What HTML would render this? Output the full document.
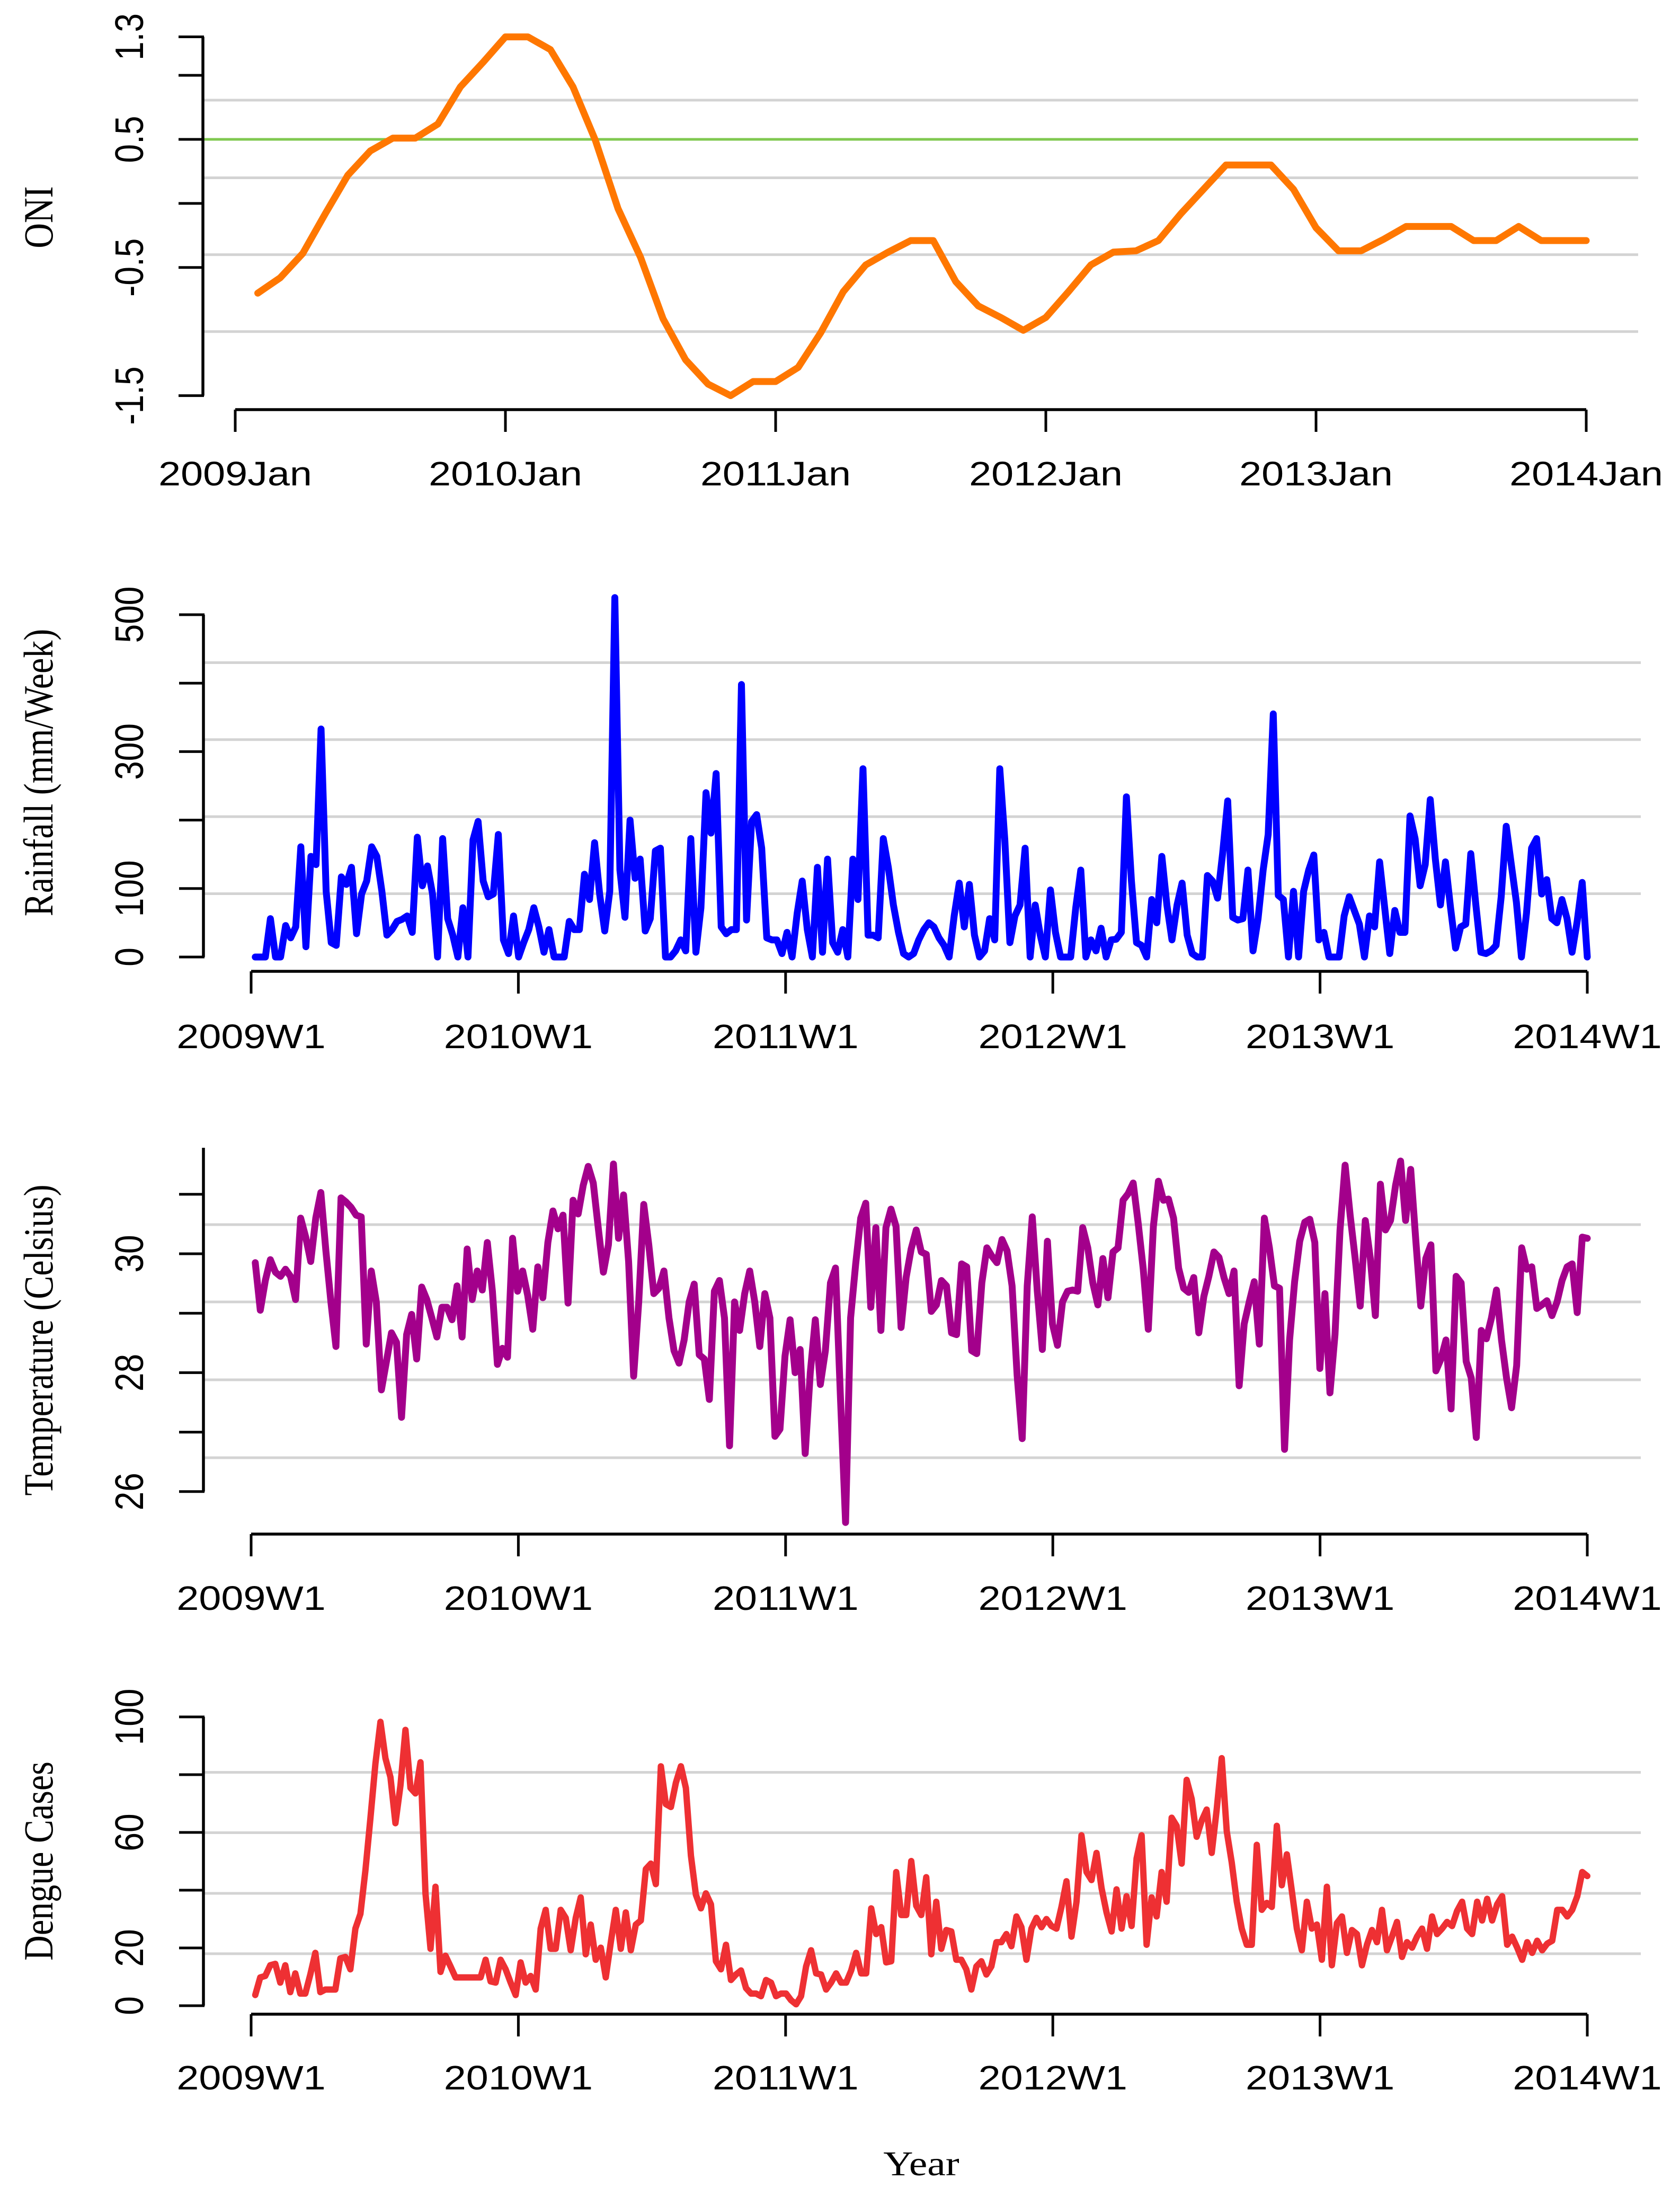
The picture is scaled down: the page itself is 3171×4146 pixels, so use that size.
<!DOCTYPE html>
<html><head><meta charset="utf-8"><title>ONI, Rainfall, Temperature and Dengue cases</title>
<style>
html,body{margin:0;padding:0;background:#fff;}
svg{display:block;}
</style></head>
<body>
<svg id="chart" xmlns="http://www.w3.org/2000/svg" width="3171" height="4146" viewBox="0 0 3171 4146"></svg>
<script>
// ---------- DATA ----------
const oniValues = [-0.70,-0.58,-0.39,-0.08,0.22,0.41,0.51,0.51,0.62,0.91,
1.10,1.30,1.30,1.20,0.91,0.49,-0.04,-0.42,-0.90,-1.22,
-1.41,-1.50,-1.39,-1.39,-1.28,-1.01,-0.69,-0.48,-0.38,-0.29,
-0.29,-0.61,-0.80,-0.89,-0.99,-0.89,-0.69,-0.48,-0.38,-0.37,
-0.29,-0.08,0.11,0.30,0.30,0.30,0.11,-0.19,-0.37,-0.37,
-0.28,-0.18,-0.18,-0.18,-0.29,-0.29,-0.18,-0.29,-0.29,-0.29];
const oniTickValues = [1.3,1.0,0.5,0,-0.5,-1.5];
const oniTickLabels = ['1.3','','0.5','','-0.5','-1.5'];
const oniGridValues = [0.806,0.2,-0.4,-1.0];
const oniReference = [0.5];
const oniXLabels = ['2009Jan','2010Jan','2011Jan','2012Jan','2013Jan','2014Jan'];

const rainValues = [0,0,0,56,0,0,46,28,44,161,
15,147,135,333,96,21,17,117,106,131,
34,92,111,161,147,96,32,40,52,55,60,36,
175,104,133,92,0,173,56,32,0,72,
0,171,198,111,88,92,179,25,5,60,
0,21,40,72,44,7,40,0,0,0,
52,40,40,121,84,167,92,38,96,525,
127,58,200,115,143,38,56,155,159,0,
0,9,25,9,173,7,72,240,181,268,
44,34,40,40,398,54,198,208,159,28,
25,25,5,36,0,64,111,40,0,131,
7,143,21,7,40,0,143,84,275,32,
32,28,173,131,76,36,5,0,5,25,
40,50,44,28,
17,0,60,108,44,106,32,0,9,56,
25,275,171,21,60,76,159,0,76,32,
0,98,36,0,0,0,72,127,0,25,
9,42,0,25,26,36,234,111,21,17,
0,84,50,147,76,25,76,108,32,5,
0,0,119,111,86,151,228,58,54,56,
127,9,56,127,179,355,90,84,0,96,
0,96,127,149,25,36,0,0,0,60,
88,68,48,0,60,44,139,72,5,68,
36,36,206,173,104,135,230,143,76,139,
72,13,44,48,151,76,7,5,9,17,
88,191,135,80,0,64,159,173,92,113,
56,50,84,56,7,52,109,0];
const rainTickValues = [0,100,200,300,400,500];
const rainTickLabels = ['0','100','','300','','500'];
const rainGridValues = [92.5,205,317.5,430];

const tempValues = [29.85,29.05,29.55,29.9,29.69,29.62,29.74,29.62,29.23,
30.6,30.28,29.87,30.6,31.03,30.05,29.19,28.44,30.94,
30.87,30.78,30.65,30.62,28.48,29.71,29.19,27.71,28.19,28.67,
28.51,27.25,28.64,28.98,28.23,29.44,29.23,28.92,28.6,
29.1,29.1,28.89,29.46,28.6,30.08,29.23,29.71,29.39,30.19,
29.37,28.14,28.41,28.26,30.26,29.37,29.71,29.3,28.73,
29.78,29.26,30.19,30.72,30.42,30.65,29.17,30.9,30.67,31.15,
31.47,31.19,30.42,29.69,30.15,31.51,30.26,30.99,29.87,27.94,
29.19,30.83,30.15,29.33,29.42,29.71,28.92,28.37,28.16,28.55,
29.19,29.49,28.3,28.23,27.55,29.37,29.55,28.92,26.77,29.19,
28.71,29.33,29.71,29.19,28.44,29.33,28.92,26.93,27.05,28.28,
28.89,28.0,28.39,26.64,28.0,28.89,27.8,28.37,29.51,29.76,
27.55,25.48,28.92,29.83,30.6,30.85,29.1,30.44,28.71,30.44,
30.75,30.46,28.76,29.6,30.08,30.4,30.03,29.99,29.03,29.14,
29.55,29.46,28.67,
28.64,29.83,29.78,28.37,28.32,29.51,30.1,29.96,29.85,30.24,
30.05,29.46,27.96,26.89,29.46,30.62,29.37,28.39,30.21,28.82,
28.46,29.19,29.37,29.39,29.37,30.44,30.1,29.51,29.14,29.92,
29.26,30.03,30.1,30.9,31.01,31.19,30.51,29.74,28.73,30.46,
31.22,30.9,30.92,30.6,29.76,29.42,29.35,29.6,28.67,29.28,
29.62,30.03,29.94,29.6,29.33,29.71,27.78,28.82,29.19,29.53,
28.48,30.6,30.1,29.46,29.42,26.71,28.55,29.53,30.21,30.53,
30.58,30.19,28.07,29.33,27.66,28.64,30.4,31.49,30.65,29.92,
29.12,30.56,29.92,28.96,31.17,30.4,30.56,31.15,31.56,30.56,
31.42,30.24,29.12,29.92,30.15,28.03,28.23,28.55,27.39,29.62,
29.51,28.19,27.91,26.91,28.71,28.57,28.92,29.39,28.55,27.91,
27.41,28.12,30.1,29.74,29.78,29.08,29.14,29.21,28.96,29.19,
29.55,29.78,29.83,29.01,30.28,30.26];
const tempTickValues = [26,27,28,29,30,31];
const tempTickLabels = ['26','','28','','30',''];
const tempGridValues = [30.49,29.19,27.88,26.57];

const dengueValues = [3.7,9.8,10.3,14,14.5,8,14,4.7,11.2,4.2,
4.2,10.8,18.3,4.7,5.6,5.6,5.6,16.4,16.9,12.6,26.7,
31.8,46.8,65,83.8,98.3,85.7,79.1,63.2,76.3,95.5,
75.4,73.5,84.3,38.9,19.7,41.2,11.7,17.3,13.6,9.8,
9.8,9.8,9.8,9.8,9.8,15.9,8.4,8,15.9,12.6,8,3.7,
15,8,10.3,5.6,26.7,33.2,19.7,19.7,33.2,30.4,
19.2,30.4,37.5,17.8,28.1,15.9,20.1,9.8,22,33.2,
19.7,32.3,19.2,28.1,29.5,47.3,49.2,42.1,82.9,69.8,
68.8,77.2,82.9,75.4,52,38.4,33.7,38.9,35.1,15.4,
12.6,21.1,8.9,10.8,12.2,6.1,4.2,4.2,3.3,8.9,
8,3.3,4.2,4.2,1.9,0.5,3.3,13.6,19.2,11.2,
10.8,5.6,8,11.2,8,8,12.2,18.3,11.2,11.2,
33.7,24.8,27.2,15,15.4,46.3,31.4,31.4,50.1,34.6,
31.4,44.5,17.8,36,19.7,26.2,25.7,15.9,
15.9,12.6,5.6,13.6,15.4,10.8,13.6,22,22,24.8,
20.6,30.9,27.2,15.9,26.7,30.4,27.2,30,27.6,26.7,
34.2,43.1,23.9,36,59,46.3,43.5,52.9,40.7,32.3,
25.7,40.3,26.7,37.9,27.6,51,59,21.1,37.5,30.9,
46.3,36,65.1,62.3,49.2,78.2,71.6,58.5,64.1,67.9,
52.9,67.9,85.7,60.4,49.6,36,26.7,21.1,21.1,55.7,
33.2,35.6,34.2,62.3,41.7,52.4,39.8,26.7,19.2,36,
26.7,28.1,15.9,41.2,14,28.6,30.9,18.3,26.2,24.8,
14,21.1,26.2,22,33.2,19.2,23.9,29,16.9,22,
20.1,23.9,26.7,19.7,30.9,24.8,26.7,29,27.6,32.8,
36,26.7,24.8,36,29.5,37,29.5,35.1,37.9,21.1,
23.9,20.1,15.9,22,18.3,22.5,19.2,21.5,22.5,33.2,
33.2,30.9,33.2,37.9,46.3,44.9];
const dengueTickValues = [0,20,40,60,80,100];
const dengueTickLabels = ['0','20','','60','','100'];
const dengueGridValues = [80.8,59.9,38.9,18];
const weekXLabels = ['2009W1','2010W1','2011W1','2012W1','2013W1','2014W1'];

// ---------- DRAWING ----------
const NS = 'http://www.w3.org/2000/svg';
const svg = document.getElementById('chart');
const STRETCH = 1.18;

function mk(tag, attrs, name, parent) {
  const el = document.createElementNS(NS, tag);
  for (const k in attrs) el.setAttribute(k, attrs[k]);
  
  
  (parent || svg).appendChild(el);
  return el;
}
function seg(x1, y1, x2, y2, stroke, w, name, g) {
  return mk('line', {x1: x1, y1: y1, x2: x2, y2: y2, stroke: stroke, 'stroke-width': w}, name, g);
}
function label(txt, x, y, opts, name, g) {
  const el = mk('text', {
    transform: 'translate(' + x + ',' + y + ') scale(' + STRETCH + ',1)' + (opts.rotate ? ' rotate(-90)' : ''),
    x: 0, y: opts.dy, 'text-anchor': 'middle',
    'font-family': opts.serif ? '"Liberation Serif", serif' : '"Liberation Sans", sans-serif',
    'font-size': opts.size, fill: '#000'
  }, name, g);
  el.textContent = txt;
  return el;
}

function panel(cfg) {
  const g = mk('g', {}, cfg.name);
  const yS = cfg.yScale, xS = cfg.xScale;
  cfg.grid.forEach(function (v) {
    seg(cfg.gridX0, yS(v), cfg.gridX1, yS(v), '#d3d3d3', 5, 'gridline', g);
  });
  (cfg.refs || []).forEach(function (v) {
    seg(cfg.gridX0, yS(v), cfg.gridX1, yS(v), '#80c850', 5, 'reference-line', g);
  });
  const n = cfg.values.length;
  const pts = cfg.values.map(function (v, i) { return xS(cfg.xIndex(i, n)).toFixed(1) + ',' + yS(v).toFixed(1); }).join(' ');
  mk('polyline', {points: pts, fill: 'none', stroke: cfg.color, 'stroke-width': cfg.lw, 'stroke-linejoin': 'round', 'stroke-linecap': 'round'}, cfg.seriesName, g);
  const yg = mk('g', {}, 'y-axis', g);
  seg(cfg.axisX, cfg.yAxisTop !== undefined ? cfg.yAxisTop : yS(cfg.yTicks[cfg.yTicks.length - 1]), cfg.axisX, yS(cfg.yTicks[0]), '#000', 5.5, 'y-axis-line', yg);
  cfg.yTicks.forEach(function (v, i) {
    seg(cfg.axisX - 46, yS(v), cfg.axisX + 2, yS(v), '#000', 5, 'y-tick', yg);
    if (cfg.yLabels[i]) label(cfg.yLabels[i], 243, yS(v), {rotate: true, dy: 23, size: 64}, 'y-tick-label', yg);
  });
  label(cfg.title, 73, cfg.titleY, {rotate: true, serif: true, dy: 22, size: 66}, 'y-axis-title', yg);
  const xg = mk('g', {}, 'x-axis', g);
  const t0 = xS(0), t1 = xS(cfg.xTickStep * (cfg.xLabels.length - 1));
  seg(t0, cfg.xAxisY, t1, cfg.xAxisY, '#000', 5.5, 'x-axis-line', xg);
  cfg.xLabels.forEach(function (lab, i) {
    const x = xS(i * cfg.xTickStep);
    seg(x, cfg.xAxisY, x, cfg.xAxisY + 42, '#000', 5, 'x-tick', xg);
    label(lab, x, cfg.xLabelY, {dy: 23, size: 64}, 'x-tick-label', xg);
  });
}

panel({
  name: 'oni-panel', seriesName: 'oni-line', values: oniValues, color: '#ff7700', lw: 13,
  xScale: function (m) { return 444 + m * 42.5; },
  xIndex: function (i) { return i + 1; },
  yScale: function (v) { return 263 - (v - 0.5) * 241.8; },
  grid: oniGridValues, refs: oniReference, gridX0: 383, gridX1: 3092,
  axisX: 383, yTicks: oniTickValues.slice().sort(function (a, b) { return a - b; }),
  yLabels: oniTickLabels.slice().reverse(), title: 'ONI', titleY: 410,
  xAxisY: 773, xTickStep: 12, xLabels: oniXLabels, xLabelY: 893
});

function weekX(w) { return 474 + w * (2996 - 474) / 260; }
function weekIdx(i, n) { return 0.8 + i * (259.2 / (n - 1)); }

panel({
  name: 'rainfall-panel', seriesName: 'rainfall-line', values: rainValues, color: '#0000ff', lw: 13,
  xScale: weekX, xIndex: weekIdx,
  yScale: function (v) { return 1806 - v * 1.292; },
  grid: rainGridValues, gridX0: 384, gridX1: 3097,
  axisX: 384, yTicks: rainTickValues, yLabels: rainTickLabels,
  title: 'Rainfall (mm/Week)', titleY: 1458,
  xAxisY: 1833, xTickStep: 52, xLabels: weekXLabels, xLabelY: 1955
});

panel({
  name: 'temperature-panel', seriesName: 'temperature-line', values: tempValues, color: '#a3008b', lw: 13,
  xScale: weekX, xIndex: weekIdx,
  yScale: function (v) { return 2366 - (v - 30) * 112.2; },
  grid: tempGridValues, gridX0: 384, gridX1: 3097,
  axisX: 384, yTicks: tempTickValues, yLabels: tempTickLabels, yAxisTop: 2166,
  title: 'Temperature (Celsius)', titleY: 2529,
  xAxisY: 2895, xTickStep: 52, xLabels: weekXLabels, xLabelY: 3015
});

panel({
  name: 'dengue-panel', seriesName: 'dengue-line', values: dengueValues, color: '#ee3033', lw: 12,
  xScale: weekX, xIndex: weekIdx,
  yScale: function (v) { return 3785 - v * 5.45; },
  grid: dengueGridValues, gridX0: 384, gridX1: 3097,
  axisX: 384, yTicks: dengueTickValues, yLabels: dengueTickLabels,
  title: 'Dengue Cases', titleY: 3512,
  xAxisY: 3801, xTickStep: 52, xLabels: weekXLabels, xLabelY: 3920
});

label('Year', 1739, 4083, {serif: true, dy: 22, size: 66}, 'x-axis-title');
</script>
</body></html>
